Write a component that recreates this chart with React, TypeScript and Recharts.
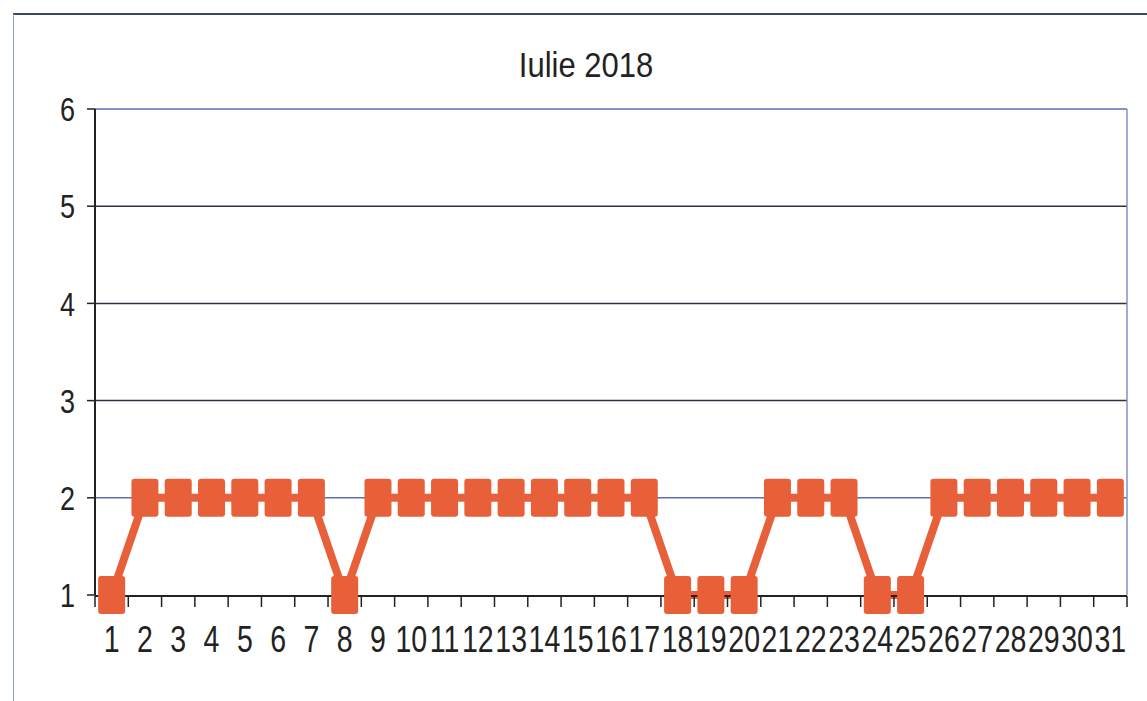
import { LineChart, Line, XAxis, YAxis, ReferenceLine } from "recharts";

const days = [
  1, 2, 3, 4, 5, 6, 7, 8, 9, 10, 11, 12, 13, 14, 15, 16,
  17, 18, 19, 20, 21, 22, 23, 24, 25, 26, 27, 28, 29, 30, 31,
];
const values = [
  1, 2, 2, 2, 2, 2, 2, 1, 2, 2, 2, 2, 2, 2, 2, 2,
  2, 1, 1, 1, 2, 2, 2, 1, 1, 2, 2, 2, 2, 2, 2,
];
const yTicks = [1, 2, 3, 4, 5, 6];
const gridDark = [3, 4, 5];
const gridBlue = [2, 6];
const boundaryTicks = [...days.map((d) => d - 0.5), 31.5];

const data = days.map((d, i) => ({ day: d, v: values[i] }));

const ORANGE = "#e8603a";
const FONT = "'Liberation Sans', Arial, sans-serif";

function XLabel({ x, y, payload }: any) {
  return (
    <g transform={`translate(${x},${y + 31}) scale(1,1.3)`}>
      <text x={0} y={0} dy="0.71em" textAnchor="middle" fontSize={28.5} fontFamily={FONT} fill="#222">
        {payload.value}
      </text>
    </g>
  );
}

function YLabel({ x, y, payload }: any) {
  return (
    <g transform={`translate(${x},${y}) scale(1,1.25)`}>
      <text x={0} y={0} dy="0.36em" textAnchor="end" fontSize={27} fontFamily={FONT} fill="#222">
        {payload.value}
      </text>
    </g>
  );
}

function NoLabel() {
  return <g />;
}

function SquareDot({ cx, cy, index }: any) {
  return <rect key={`sq-${index}`} x={cx - 13.5} y={cy - 19} width={27} height={38} rx={3} fill={ORANGE} />;
}

export default function App() {
  return (
    <div style={{ position: "absolute", left: 0, top: 0, width: 1147, height: 701, background: "#fff" }}>
      <div
        style={{
          position: "absolute",
          left: 13,
          top: 13,
          right: 0,
          bottom: 0,
          borderTop: "2px solid #3a4868",
          borderLeft: "1px solid #8fa3cf",
        }}
      />
      <svg width={1147} height={701} style={{ position: "absolute", left: 0, top: 0 }}>
        <g transform="translate(586,77) scale(1,1.13)">
          <text x={0} y={0} textAnchor="middle" fontSize={31} fontFamily={FONT} fill="#222">
            Iulie 2018
          </text>
        </g>
      </svg>
      <div style={{ position: "absolute", left: 0, top: 0 }}>
        <LineChart width={1147} height={701} data={data} margin={{ top: 109, right: 20, bottom: 104, left: 35 }}>
          <XAxis
            xAxisId="ticks"
            dataKey="day"
            type="number"
            domain={[0.5, 31.5]}
            ticks={boundaryTicks}
            interval={0}
            height={1}
            tick={<NoLabel />}
            tickSize={11}
            axisLine={{ stroke: "#222", strokeWidth: 2 }}
            tickLine={{ stroke: "#222", strokeWidth: 1.5 }}
          />
          <XAxis
            xAxisId="labels"
            dataKey="day"
            type="number"
            domain={[0.5, 31.5]}
            ticks={days}
            interval={0}
            height={1}
            tickSize={0}
            tickMargin={0}
            axisLine={false}
            tickLine={false}
            tick={<XLabel />}
          />
          <YAxis
            type="number"
            domain={[1, 6]}
            ticks={yTicks}
            interval={0}
            width={60}
            tickSize={8}
            tickMargin={12}
            axisLine={{ stroke: "#222", strokeWidth: 2 }}
            tickLine={{ stroke: "#222", strokeWidth: 1.5 }}
            tick={<YLabel />}
          />
          {gridDark.map((g) => (
            <ReferenceLine key={`gd-${g}`} xAxisId="labels" y={g} stroke="#2e3040" strokeWidth={1.5} />
          ))}
          {gridBlue.map((g) => (
            <ReferenceLine key={`gb-${g}`} xAxisId="labels" y={g} stroke="#5a70b0" strokeWidth={1.5} />
          ))}
          <ReferenceLine xAxisId="labels" x={31.5} stroke="#7f93c8" strokeWidth={1.5} />
          <Line
            xAxisId="labels"
            dataKey="v"
            type="linear"
            stroke={ORANGE}
            strokeWidth={8}
            dot={<SquareDot />}
            activeDot={false}
            isAnimationActive={false}
          />
        </LineChart>
      </div>
    </div>
  );
}
